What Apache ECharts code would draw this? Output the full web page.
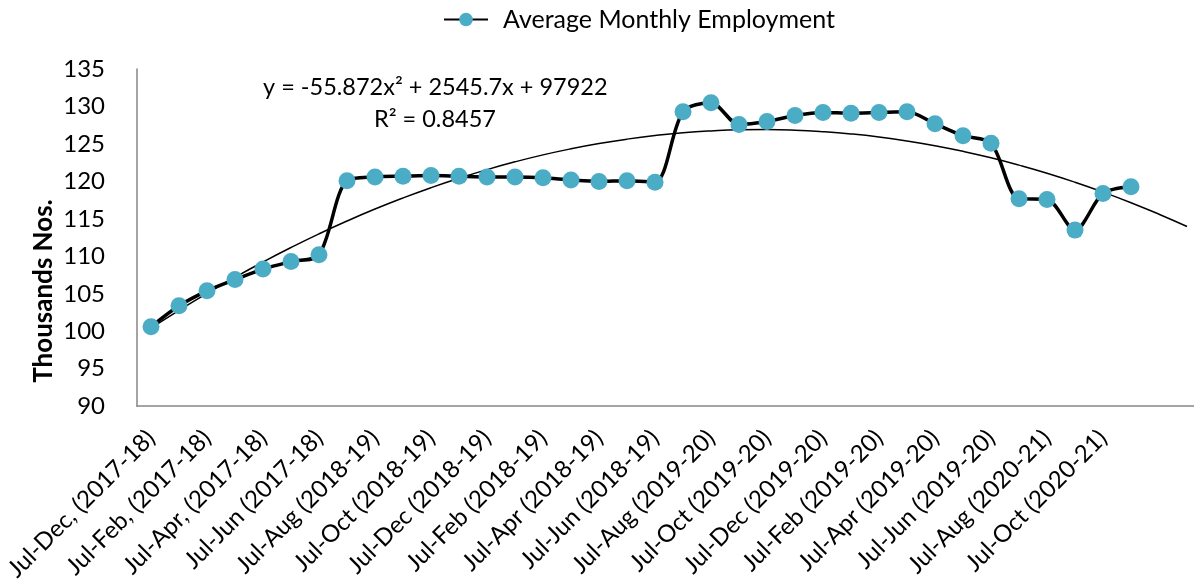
<!DOCTYPE html>
<html>
<head>
<meta charset="utf-8">
<script src="https://cdn.jsdelivr.net/npm/echarts@6/dist/echarts.min.js"></script>
<style>
html,body{margin:0;padding:0;background:#fff;overflow:hidden;}
#wrap{position:relative;width:1194px;height:584px;overflow:hidden;}
#chart{position:absolute;left:0;top:0;width:1201px;height:584px;}
</style>
</head>
<body>
<div id="wrap"><div id="chart"></div></div>
<script>
// Categories (two blank periods at the end carry the trendline's forward forecast)
var categories = [
  "Jul-Dec, (2017-18)","Jul-Jan, (2017-18)","Jul-Feb, (2017-18)","Jul-Mar, (2017-18)","Jul-Apr, (2017-18)","Jul-May, (2017-18)","Jul-Jun (2017-18)",
  "Jul (2018-19)","Jul-Aug (2018-19)","Jul-Sep (2018-19)","Jul-Oct (2018-19)","Jul-Nov (2018-19)","Jul-Dec (2018-19)","Jul-Jan (2018-19)","Jul-Feb (2018-19)","Jul-Mar (2018-19)","Jul-Apr (2018-19)","Jul-May (2018-19)","Jul-Jun (2018-19)",
  "Jul (2019-20)","Jul-Aug (2019-20)","Jul-Sep (2019-20)","Jul-Oct (2019-20)","Jul-Nov (2019-20)","Jul-Dec (2019-20)","Jul-Jan (2019-20)","Jul-Feb (2019-20)","Jul-Mar (2019-20)","Jul-Apr (2019-20)","Jul-May (2019-20)","Jul-Jun (2019-20)",
  "Jul (2020-21)","Jul-Aug (2020-21)","Jul-Sep (2020-21)","Jul-Oct (2020-21)","Jul-Nov (2020-21)",
  "",""
];
// Average monthly employment (thousands)
var employment = [
  100.6,103.4,105.4,106.9,108.3,109.3,110.2,
  120.1,120.6,120.7,120.8,120.7,120.6,120.6,120.5,120.2,120.0,120.1,119.9,
  129.3,130.5,127.6,128.0,128.8,129.2,129.1,129.2,129.3,127.7,126.1,125.1,
  117.7,117.6,113.5,118.4,119.3
];
// Polynomial trendline values read at each period (thousands)
var trend = [
  100.41,102.79,105.06,107.21,109.25,111.18,113.00,114.71,116.31,117.79,
  119.16,120.42,121.57,122.61,123.54,124.35,125.05,125.64,126.12,126.49,
  126.74,126.89,126.92,126.84,126.64,126.34,125.93,125.40,124.76,124.01,
  123.15,122.17,121.09,119.89,118.58,117.16,115.62,113.98
];
var yTicks = {min: 90, max: 135, interval: 5};
var seriesName = "Average Monthly Employment";
var equationText = "y = -55.872x\u00B2 + 2545.7x + 97922";
var r2Text = "R\u00B2 = 0.8457";
var yAxisTitle = "Thousands Nos.";

var FONT = "Lato";
var FS = 24;
var chart = echarts.init(document.getElementById('chart'), null, {renderer: 'canvas', width: 1201, height: 584});
chart.setOption({
  animation: false,
  backgroundColor: '#ffffff',
  textStyle: {fontFamily: FONT, color: '#000'},
  legend: {
    data: [seriesName],
    left: 443, top: 7,
    padding: 0,
    itemWidth: 44, itemHeight: 17,
    textStyle: {fontFamily: FONT, fontSize: 25, color: '#000', padding: [0,0,0,10]}
  },
  grid: {left: 137, top: 69, width: 1064, height: 339, containLabel: false},
  xAxis: {
    type: 'category',
    data: categories,
    boundaryGap: true,
    axisLine: {show: true, lineStyle: {color: '#868686', width: 1.5}},
    axisTick: {show: false},
    axisLabel: {interval: 1, rotate: 45, margin: 28, fontFamily: FONT, fontSize: FS, color: '#000'},
    splitLine: {show: false}
  },
  yAxis: {
    type: 'value',
    min: yTicks.min, max: yTicks.max, interval: yTicks.interval,
    axisLine: {show: true, lineStyle: {color: '#868686', width: 1.5}},
    axisTick: {show: false},
    axisLabel: {margin: 32, fontFamily: FONT, fontSize: FS, color: '#000'},
    splitLine: {show: false}
  },
  graphic: [
    {type: 'text', left: 263, top: 75, style: {text: equationText, font: '23.5px ' + FONT, fill: '#000'}},
    {type: 'text', left: 374, top: 107, style: {text: r2Text, font: '23.5px ' + FONT, fill: '#000'}},
    {type: 'text', x: 44, y: 291, rotation: Math.PI/2,
     style: {text: yAxisTitle, font: 'bold 26px ' + FONT, fill: '#000', align: 'center', verticalAlign: 'middle'}}
  ],
  series: [
    {
      name: 'Poly. trend',
      type: 'line',
      data: trend,
      smooth: true,
      showSymbol: false,
      symbol: 'none',
      lineStyle: {color: '#000', width: 1.5},
      z: 1,
      silent: true
    },
    {
      name: seriesName,
      type: 'line',
      data: employment,
      smooth: 0.3,
      symbol: 'circle',
      symbolSize: 17,
      lineStyle: {color: '#000', width: 3.5},
      itemStyle: {color: '#4BACC6'},
      z: 3
    }
  ]
});
</script>
</body>
</html>
